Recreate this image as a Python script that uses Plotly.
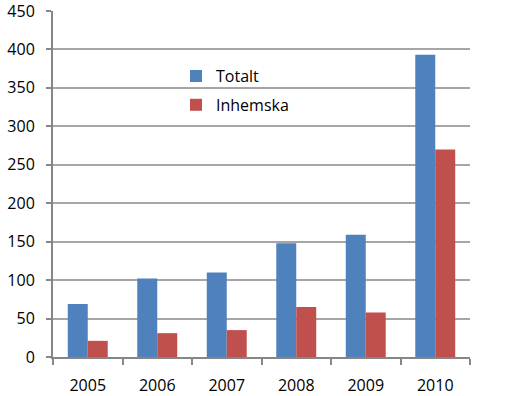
import plotly.graph_objects as go

years = ["2005", "2006", "2007", "2008", "2009", "2010"]
totalt = [69, 102, 110, 148, 159, 393]
inhemska = [21, 31, 35, 65, 58, 270]

font_family = "Open Sans"

fig = go.Figure()
fig.add_trace(go.Bar(x=years, y=totalt, name="Totalt", marker_color="#4F81BD",
                     marker_line_width=0, legendgroup="a"))
fig.add_trace(go.Bar(x=years, y=inhemska, name="Inhemska", marker_color="#C0504D",
                     marker_line_width=0, legendgroup="b"))

fig.update_layout(
    width=506, height=396,
    margin=dict(l=53, r=36, t=11, b=39),
    paper_bgcolor="white", plot_bgcolor="white",
    barmode="group", bargap=0.425, bargroupgap=0,
    font=dict(family=font_family, size=16, color="#000000"),
    legend=dict(x=0.295, y=0.861, xanchor="left", yanchor="top",
                bgcolor="rgba(0,0,0,0)", font=dict(size=16),
                tracegroupgap=5, itemwidth=30),
    xaxis=dict(showline=True, linecolor="#868686", linewidth=2,
               ticks="outside", tickson="boundaries", ticklen=6,
               tickcolor="#868686", tickwidth=2, ticklabelstandoff=13,
               showgrid=False, fixedrange=True, automargin=False),
    yaxis=dict(range=[0, 450], dtick=50, showline=True, linecolor="#868686",
               linewidth=2, ticks="outside", ticklen=5, tickcolor="#868686",
               tickwidth=2, showgrid=True, gridcolor="#A6A6A6", gridwidth=1.5,
               ticklabelstandoff=8, zeroline=False, automargin=False,
               ticklabeloverflow="allow"),
)

fig.write_html("out.html", config={"displayModeBar": False},
               post_script="document.body.style.margin='0';")
